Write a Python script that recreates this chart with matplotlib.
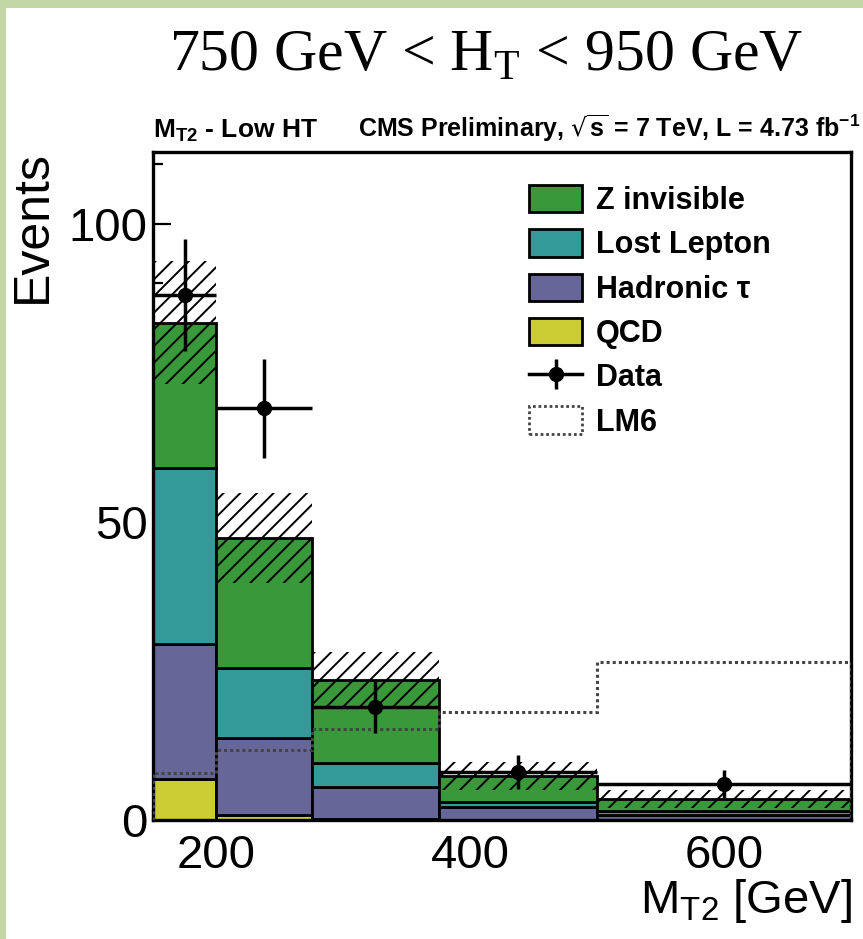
import numpy as np
import matplotlib
matplotlib.use('Agg')
import matplotlib.pyplot as plt
from matplotlib.patches import Patch, Rectangle
from matplotlib.lines import Line2D

plt.rcParams['font.family'] = ['Liberation Sans', 'DejaVu Sans']
plt.rcParams['hatch.linewidth'] = 1.4

# M_T2 bins [GeV]
edges = [150, 200, 275, 375, 500, 700]

# background components (events per bin), stacked bottom to top
qcd = [6.9, 0.8, 0.1, 0.0, 0.0]
had_tau = [22.6, 13.0, 5.4, 2.2, 0.8]
lost_lep = [29.5, 11.7, 4.1, 0.8, 0.7]
z_inv = [24.4, 21.8, 13.9, 4.4, 2.0]
bkg_err = [10.3, 7.5, 4.6, 2.4, 1.5]

# observed data and signal benchmark
data = [88, 69, 19, 8, 6]
lm6 = [7.9, 11.7, 15.3, 18.1, 26.5]

col_z = '#39993a'
col_ll = '#339999'
col_tau = '#666699'
col_qcd = '#cccc33'

W, H = 863, 939
fig = plt.figure(figsize=(W / 100, H / 100), dpi=100, facecolor='#c3d6a6')
# white slide area
fig.patches.append(Rectangle((6 / W, 0), 1, 1 - 8 / H, transform=fig.transFigure,
                             facecolor='white', edgecolor='none', zorder=-10))

ax = fig.add_axes([153 / W, 1 - 820 / H, (851 - 153) / W, (820 - 152) / H])

x = np.array(edges[:-1], dtype=float)
w = np.diff(edges).astype(float)
centers = x + w / 2

bottom = np.zeros(len(x))
for vals, col in [(qcd, col_qcd), (had_tau, col_tau), (lost_lep, col_ll), (z_inv, col_z)]:
    ax.bar(x, vals, width=w, bottom=bottom, align='edge', color=col,
           edgecolor='black', linewidth=2, zorder=2)
    bottom = bottom + np.array(vals)

total = bottom
err = np.array(bkg_err)
ax.bar(x, 2 * err, width=w, bottom=total - err, align='edge', fill=False,
       hatch='//', edgecolor='black', linewidth=0, zorder=3)

ax.stairs(lm6, edges, color='#444444', linestyle=(0, (1, 1)), linewidth=2.2, zorder=4)

ax.errorbar(centers, data, xerr=w / 2, yerr=np.sqrt(data), fmt='o', color='black',
            ms=10, elinewidth=2.5, capsize=0, zorder=5)

ax.set_xlim(150, 700)
ax.set_ylim(0, 112)
ax.set_xticks([200, 400, 600])
ax.set_xticks(np.arange(150, 701, 50), minor=True)
ax.set_yticks([0, 50, 100])
ax.set_yticks(np.arange(0, 112, 10), minor=True)
ax.tick_params(which='both', direction='in', top=False, right=False, width=1.6)
ax.tick_params(which='major', length=13, labelsize=34)
ax.tick_params(axis='y', which='major', pad=4)
ax.tick_params(axis='x', which='major', pad=10)
ax.tick_params(which='minor', length=7)
for s in ax.spines.values():
    s.set_linewidth(2.4)

data_handle = (Line2D([], [], color='black', lw=2.5),
               Line2D([], [], color='black', marker='|', ms=22, mew=2.5, ls='none'),
               Line2D([], [], color='black', marker='o', ms=10, ls='none'))
handles = [
    Patch(facecolor=col_z, edgecolor='black', linewidth=2),
    Patch(facecolor=col_ll, edgecolor='black', linewidth=2),
    Patch(facecolor=col_tau, edgecolor='black', linewidth=2),
    Patch(facecolor=col_qcd, edgecolor='black', linewidth=2),
    data_handle,
    Patch(fill=False, edgecolor='#444444', linestyle=(0, (1, 1)), linewidth=2),
]
labels = ['Z invisible', 'Lost Lepton', 'Hadronic τ', 'QCD', 'Data', 'LM6']
fig.legend(handles, labels, loc='upper left', bbox_to_anchor=(529 / W, 1 - 185 / H),
           frameon=False, borderpad=0, borderaxespad=0, handlelength=1.75,
           handleheight=1.0, handletextpad=0.45, labelspacing=0.43,
           prop={'weight': 'bold', 'size': 22})

fig.text(486 / W, 1 - 70 / H, r'750 GeV < H$_\mathregular{T}$ < 950 GeV',
         family=['Liberation Serif', 'DejaVu Serif'], fontsize=43, ha='center', va='baseline')
fig.text(153 / W, 1 - 137 / H, r'M$_\mathregular{T2}$ - Low HT', fontsize=19,
         fontweight='bold', ha='left', va='baseline')
fig.text(860 / W, 1 - 137 / H,
         r'CMS Preliminary, $\sqrt{\mathregular{s}}$ = 7 TeV, L = 4.73 fb$^\mathregular{-1}$',
         fontsize=18, fontweight='bold', ha='right', va='baseline')
fig.text(33 / W, 1 - 150 / H, 'Events', fontsize=36, rotation=90, ha='center', va='top')
fig.text(852 / W, 1 - 913 / H, r'M$_\mathregular{T2}$ [GeV]', fontsize=34,
         ha='right', va='baseline')

fig.savefig('out.png', dpi=100, facecolor=fig.get_facecolor())
